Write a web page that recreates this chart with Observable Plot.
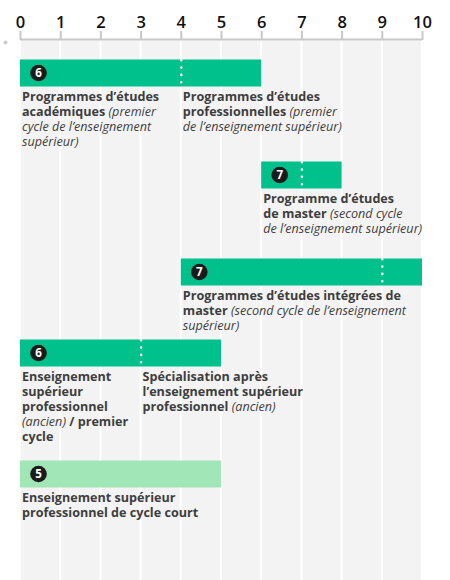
<!DOCTYPE html>
<html>
<head>
<meta charset="utf-8">
<script src="https://cdn.jsdelivr.net/npm/d3@7"></script>
<script src="https://cdn.jsdelivr.net/npm/@observablehq/plot@0.6"></script>
<style>
  html, body { margin: 0; padding: 0; background: #fff; }
  svg { display: block; }
</style>
</head>
<body>
<script>
// ---- Data ----
const ticks = [0, 1, 2, 3, 4, 5, 6, 7, 8, 9, 10];

// bars (row index 1..5 from top)
const barRow   = [1, 2, 3, 4, 5];
const barStart = [0, 6, 4, 0, 0];
const barEnd   = [6, 8, 10, 5, 5];
const barLevel = [6, 7, 7, 6, 5];

// dotted separators inside bars
const splitRow = [1, 2, 3, 4];
const splitAt  = [4, 7, 9, 3];

// labels under bars
const labelRow = [1, 1, 2, 3, 4, 4, 5];
const labelX   = [0, 4, 6, 4, 0, 3, 0];
const labelText = [
  "Programmes d’études\nacadémiques (premier\ncycle de l’enseignement\nsupérieur)",
  "Programmes d’études\nprofessionnelles (premier\nde l’enseignement supérieur)",
  "Programme d’études\nde master (second cycle\nde l’enseignement supérieur)",
  "Programmes d’études intégrées de\nmaster (second cycle de l’enseignement\nsupérieur)",
  "Enseignement\nsupérieur\nprofessionnel\n(ancien) / premier\ncycle",
  "Spécialisation après\nl’enseignement supérieur\nprofessionnel (ancien)",
  "Enseignement supérieur\nprofessionnel de cycle court"
];

// ---- Tables ----
const bars = barRow.map((r, i) => ({row: r, start: barStart[i], end: barEnd[i], level: barLevel[i]}));
const splits = splitRow.map((r, i) => ({row: r, x: splitAt[i]}));
const columns = d3.range(0, 10);

// split labels into lines; italic runs = parenthesised text (may span lines)
const lines = [];
labelText.forEach((txt, i) => {
  let italic = false;
  txt.split("\n").forEach((line, k) => {
    const runs = [];
    let cur = "", curI = italic;
    for (const ch of line) {
      if (ch === "(") { if (cur) runs.push([cur, curI]); cur = ch; curI = italic = true; continue; }
      cur += ch;
      if (ch === ")") { runs.push([cur, true]); cur = ""; curI = italic = false; }
    }
    if (cur) runs.push([cur, curI]);
    lines.push({row: labelRow[i], x: labelX[i], k, text: line, runs});
  });
});
const maxLines = d3.max(lines, d => d.k) + 1;
const linesByK = d3.range(maxLines).map(k => lines.filter(d => d.k === k));

const GREEN = "#00c08b";
const LIGHT = "#a1e6b7";
const LABEL = "#3e3e3e";
const FONT = "'Open Sans', sans-serif";
const LINE_H = 15;

const chart = Plot.plot({
  width: 450,
  height: 580,
  marginLeft: 20,
  marginRight: 28,
  marginTop: 39,
  marginBottom: 0,
  style: {fontFamily: FONT, background: "#fff"},
  x: {domain: [0, 10], axis: null},
  y: {type: "linear", domain: [0, 1, 2, 3, 4, 5, 6], range: [39, 59, 161, 258, 339, 460, 580], axis: null},
  marks: [
    // background columns
    Plot.rect(columns, {x1: d => d, x2: d => d + 1, y1: 0, y2: 6, fill: "#f3f3f3", insetLeft: 1, insetRight: 1, insetTop: 1.5}),
    // top axis
    Plot.ruleY([0], {x1: 0, x2: 10, stroke: "#c8c8c8", strokeWidth: 2}),
    Plot.axisX(ticks, {anchor: "top", tickSize: 9, tickPadding: 3, stroke: "#c8c8c8", strokeWidth: 2, fill: "#111",
      fontSize: 16.5, fontWeight: 600, label: null}),
    Plot.dot([0], {x: 0, y: 0, dx: -15, dy: 3, r: 2, fill: "#cccccc", stroke: null}),
    // bars
    Plot.ruleY(bars, {y: "row", x1: "start", x2: "end", dy: 13.5, strokeWidth: 27,
      stroke: d => d.level === 5 ? LIGHT : GREEN}),
    // dotted separators
    Plot.ruleX(splits, {x: "x", y1: "row", y2: "row", insetTop: 1.3, insetBottom: -24, stroke: "#fff",
      strokeWidth: 2.6, strokeLinecap: "round", strokeDasharray: "0 7.3"}),
    // level badges
    Plot.dot(bars, {x: "start", y: "row", dx: 18, dy: 13.5, r: 8.3, fill: "#1b1b1b", stroke: null}),
    Plot.text(bars, {x: "start", y: "row", dx: 18, dy: 13.8, text: d => String(d.level), fill: "#fff",
      fontSize: 11.5, fontWeight: 700}),
    // label lines (one mark per line index)
    ...linesByK.map((data, k) => Plot.text(data, {x: "x", y: "row", text: "text", dx: 1.5, dy: 32.5 + k * LINE_H,
      textAnchor: "start", lineAnchor: "top", fontSize: 12.6, fontWeight: 700, fill: LABEL}))
  ]
});

// apply bold / italic runs (document order matches linesByK order)
(function styleRuns(svg) {
  const ns = "http://www.w3.org/2000/svg";
  const ordered = linesByK.flat();
  const nodes = svg.querySelectorAll('g[fill="' + LABEL + '"] text');
  nodes.forEach((t, i) => {
    const d = ordered[i];
    if (!d) return;
    while (t.firstChild) t.removeChild(t.firstChild);
    d.runs.forEach(([txt, it]) => {
      const ts = document.createElementNS(ns, "tspan");
      if (it) { ts.setAttribute("font-style", "italic"); ts.setAttribute("font-weight", "400"); }
      ts.textContent = txt;
      t.appendChild(ts);
    });
  });
})(chart);

document.body.appendChild(chart);
</script>
</body>
</html>
